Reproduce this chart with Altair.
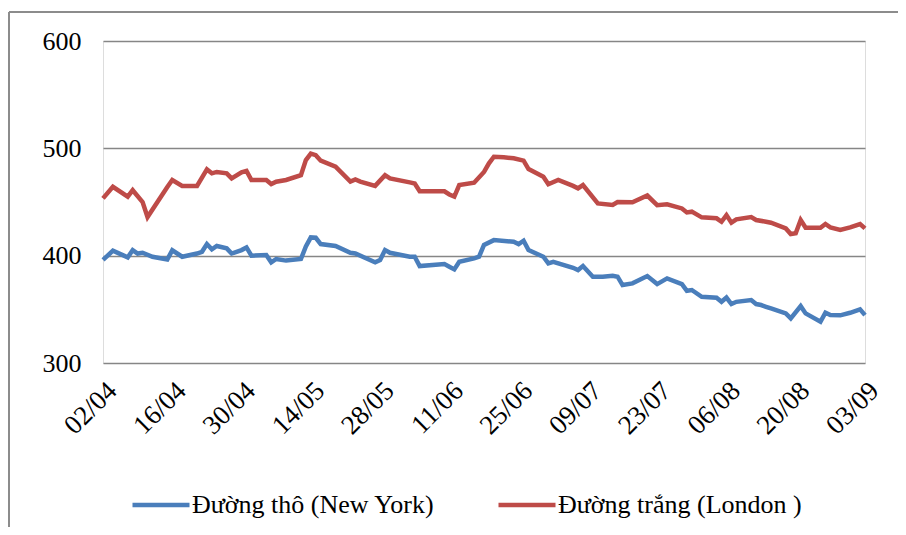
import altair as alt
import pandas as pd

# Tick labels (every 14 days from 02/04 to 03/09)
TICK_DAYS = [0, 14, 28, 42, 56, 70, 84, 98, 112, 126, 140, 154]
TICK_LABELS = ["02/04", "16/04", "30/04", "14/05", "28/05", "11/06",
               "25/06", "09/07", "23/07", "06/08", "20/08", "03/09"]

SERIES = ["Đường thô (New York)", "Đường trắng (London )"]
COLORS = ["#4A7EBB", "#BE4B48"]

# Raw sugar (New York): day offset and value
raw_days = [0, 2, 5, 6, 7, 8, 10, 13, 14, 16, 19, 20, 21, 22, 23, 25, 26, 28, 29, 30,
            33, 34, 35, 37, 40, 41, 42, 43, 44, 47, 50, 51, 55, 56, 57, 58, 62, 63, 64,
            69, 70, 71, 72, 75, 76, 77, 79, 83, 84, 85, 86, 89, 90, 91, 95, 96, 97, 99,
            101, 103, 104, 105, 107, 110, 112, 114, 117, 118, 119, 121, 124, 125, 126,
            127, 128, 131, 132, 133, 134, 135, 138, 139, 141, 142, 145, 146, 147, 149,
            151, 153, 154]
raw_vals = [396, 404.6, 398.4, 405.2, 402, 402.7, 399, 396.5, 405, 399, 402, 403.6,
            410.8, 405.9, 409, 406.8, 402, 405.2, 407.7, 400, 400.6, 393.8, 396.9, 395.4,
            396.9, 408.5, 417, 416.7, 410.8, 409, 402.7, 402, 393.8, 396, 405.2, 402.7,
            399, 399, 390.3, 392.2, 389.7, 387.2, 394.3, 397.5, 399, 410, 414.5, 413,
            410.8, 413.9, 405.2, 399, 392.8, 394.3, 388.7, 386.6, 390.3, 380.4, 380.4,
            381.3, 380.4, 372.6, 374.2, 381, 373.5, 378.8, 373.5, 367.3, 368, 361.7,
            360.8, 357, 361, 354.9, 357, 358.6, 354.9, 354, 352.4, 350.9, 346.2, 341.6,
            353, 346.2, 338.4, 346.8, 344.6, 344.4, 346.8, 350, 344.6]

# White sugar (London): day offset and value
white_days = [0, 2, 5, 6, 8, 9, 13, 14, 16, 19, 21, 22, 23, 25, 26, 28, 29, 30, 33, 34,
              35, 37, 40, 41, 42, 43, 44, 47, 50, 51, 52, 55, 57, 58, 62, 63, 64, 69, 70,
              71, 72, 75, 77, 78, 79, 81, 83, 85, 86, 89, 90, 92, 95, 96, 97, 100, 103,
              104, 107, 110, 112, 114, 117, 118, 119, 121, 124, 125, 126, 127, 128, 131,
              132, 134, 135, 138, 139, 140, 141, 142, 145, 146, 147, 149, 151, 153, 154]
white_vals = [453.4, 464.2, 455, 461, 450, 436, 464, 470.5, 465, 465, 480.4, 476.7, 478,
              476.7, 472, 477.6, 479, 470.5, 470.5, 466.7, 468.9, 470.5, 475, 489, 495,
              493.6, 488.5, 483, 469, 471, 469, 465, 475, 472, 468.3, 467.3, 460, 460,
              457, 455, 465.8, 468, 478, 486, 492.2, 491.6, 490.7, 488.5, 480.7, 473.5,
              466.5, 470.5, 465, 462.7, 465.8, 448.7, 447.2, 450, 449.7, 456, 447, 447.8,
              444, 440.3, 441, 435.7, 434.8, 431.6, 437.8, 430.7, 433.8, 436, 433.2,
              431.6, 430.7, 425.4, 420.1, 420.8, 433.2, 426, 426, 429.5, 426.4, 423.9,
              426.4, 429.5, 425.4]

df = pd.concat([
    pd.DataFrame({"day": raw_days, "value": raw_vals, "series": SERIES[0]}),
    pd.DataFrame({"day": white_days, "value": white_vals, "series": SERIES[1]}),
])

FONT = "Liberation Serif"
label_arr = "[" + ",".join("'" + s + "'" for s in TICK_LABELS) + "]"

lines = alt.Chart(df).mark_line(strokeWidth=4.5, interpolate="linear").encode(
    x=alt.X("day:Q",
            scale=alt.Scale(domain=[0, 154], nice=False, zero=False),
            axis=alt.Axis(values=TICK_DAYS, labelExpr=label_arr + "[round(datum.value/14)]",
                          labelAngle=-45, labelFontSize=27, labelFont=FONT,
                          labelColor="#000000", labelPadding=14, grid=False,
                          domain=False, ticks=False, title=None, labelFlush=False,
                          labelOverlap=False)),
    y=alt.Y("value:Q",
            scale=alt.Scale(domain=[300, 600], nice=False, zero=False),
            axis=alt.Axis(values=[300, 400, 500, 600], labelFontSize=26, labelFont=FONT,
                          labelColor="#000000", labelPadding=22, grid=True,
                          gridColor="#868686", gridWidth=1.6, domain=False,
                          ticks=False, title=None)),
    color=alt.Color("series:N",
                    scale=alt.Scale(domain=SERIES, range=COLORS),
                    legend=alt.Legend(orient="none", legendX=27, legendY=433,
                                      direction="horizontal", title=None,
                                      symbolType="stroke", symbolSize=3249,
                                      symbolStrokeWidth=4.5, labelFontSize=26,
                                      labelFont=FONT, labelColor="#000000",
                                      labelOffset=0, columnPadding=54, padding=0,
                                      labelLimit=400)),
)

frame_top = alt.Chart(df).mark_rule(color="#8c8c8c", strokeWidth=1.5).encode(
    x=alt.value(-94), x2=alt.value(800), y=alt.value(-29))
frame_left = alt.Chart(df).mark_rule(color="#8c8c8c", strokeWidth=1.5).encode(
    x=alt.value(-94), y=alt.value(-29), y2=alt.value(520))

chart = alt.layer(frame_top, frame_left, lines).properties(
    width=762, height=322,
    padding={"left": 95, "top": 33, "right": 33, "bottom": 164},
    autosize=alt.AutoSizeParams(type="none"),
).configure_view(stroke=None).configure(background="white")

chart.save("out.html", embed_options={"renderer": "svg", "actions": False})
